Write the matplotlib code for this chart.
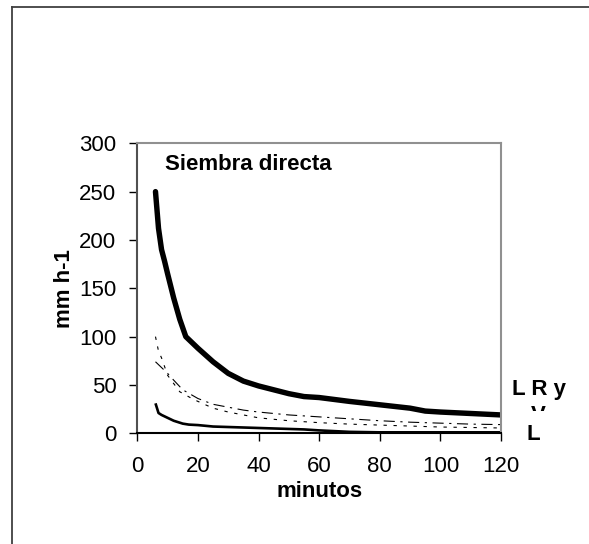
import matplotlib
matplotlib.use("Agg")
import matplotlib.pyplot as plt
from matplotlib.lines import Line2D
from matplotlib.transforms import Bbox

plt.rcParams['font.family'] = ['Liberation Sans', 'DejaVu Sans']

# Data (minutos vs mm h-1)
x_thick = [6, 7, 8, 9, 10, 12, 14, 16, 20, 25, 30, 35, 40, 45, 50, 55, 60, 70, 80, 90, 95, 100, 110, 120]
y_thick = [250, 212, 190, 178, 165, 140, 118, 100, 88, 74, 62, 54, 49, 45, 41, 38, 37, 33, 29.5, 26, 23, 22, 20.5, 19]

x_thin = [6, 7, 8, 10, 12, 15, 17, 20, 25, 30, 40, 50, 55, 60, 70, 80, 100, 120]
y_thin = [31, 21, 19, 16, 13, 10, 9, 8.5, 7, 6.5, 5.5, 4.5, 4, 3, 1.5, 1, 1, 1]

x_dashdot = [6, 8, 10, 12, 15, 20, 25, 30, 35, 40, 50, 60, 70, 80, 90, 100, 110, 120]
y_dashdot = [74, 68, 62, 55, 45, 36, 30, 27, 24, 22, 19, 17, 15, 13, 11.5, 10.5, 9.5, 9]

x_dash = [6, 7, 8, 10, 14, 18, 20, 25, 30, 35, 40, 50, 60, 70, 80, 90, 100, 110, 120]
y_dash = [100, 85, 78, 60, 43, 36, 33, 26, 22, 19, 16, 13, 11, 9.5, 8.5, 7.5, 6.5, 6, 5.5]

xticks = [0, 20, 40, 60, 80, 100, 120]
yticks = [0, 50, 100, 150, 200, 250, 300]

W, H = 589, 544
FS = 16
fig = plt.figure(figsize=(W / 100, H / 100), dpi=100)
fig.patch.set_facecolor('white')

ax = fig.add_axes([137.3 / W, (H - 433.3) / H, (501 - 137.3) / W, (433.3 - 143.3) / H])
ax.plot(x_thick, y_thick, color='black', lw=3.9, solid_capstyle='round', solid_joinstyle='round')
ax.plot(x_thin, y_thin, color='black', lw=1.9, solid_capstyle='butt')
ax.plot(x_dashdot, y_dashdot, color='black', lw=0.8, dashes=(10, 5, 2, 5))
ax.plot(x_dash, y_dash, color='black', lw=0.8, dashes=(3, 6))

ax.set_xlim(0, 120)
ax.set_ylim(0, 300)
ax.set_xticks(xticks)
ax.set_yticks(yticks)
ax.tick_params(axis='both', direction='out', length=6, width=1, labelsize=FS, colors='black')
ax.tick_params(axis='x', pad=10)
ax.tick_params(axis='y', pad=9)
ax.spines['top'].set_color('#909090')
ax.spines['right'].set_color('#909090')
ax.spines['left'].set_color('#505050')
ax.spines['bottom'].set_color('black')
for s in ax.spines.values():
    s.set_linewidth(1.5)

ax.set_xlabel('minutos', fontsize=FS, fontweight='bold', labelpad=3)
ax.set_ylabel('mm h-1', fontsize=FS, fontweight='bold', labelpad=3)
ax.text(0.075, 0.962, 'Siembra directa', transform=ax.transAxes, fontsize=FS,
        fontweight='bold', ha='left', va='top')

# Right-side labels
fig.text(512 / W, 1 - 389 / H, 'L R y', fontsize=FS, fontweight='bold', ha='left', va='center')
tv = fig.text(538 / W, 1 - 405 / H, 'V', fontsize=FS, fontweight='bold', ha='center', va='top')
tv.set_clip_box(Bbox.from_extents(520, H - 411, 560, H - 400))
tv.set_clip_on(True)
fig.text(533 / W, 1 - 435 / H, 'L', fontsize=FS, fontweight='bold', ha='center', va='center')

# Outer frame (only left and top visible)
fig.add_artist(Line2D([11.5 / W, 11.5 / W], [0, 1 - 7 / H], transform=fig.transFigure, color='#404040', lw=1.3))
fig.add_artist(Line2D([11.5 / W, 1], [1 - 7 / H, 1 - 7 / H], transform=fig.transFigure, color='#404040', lw=1.3))

fig.savefig('out.png', dpi=100)
